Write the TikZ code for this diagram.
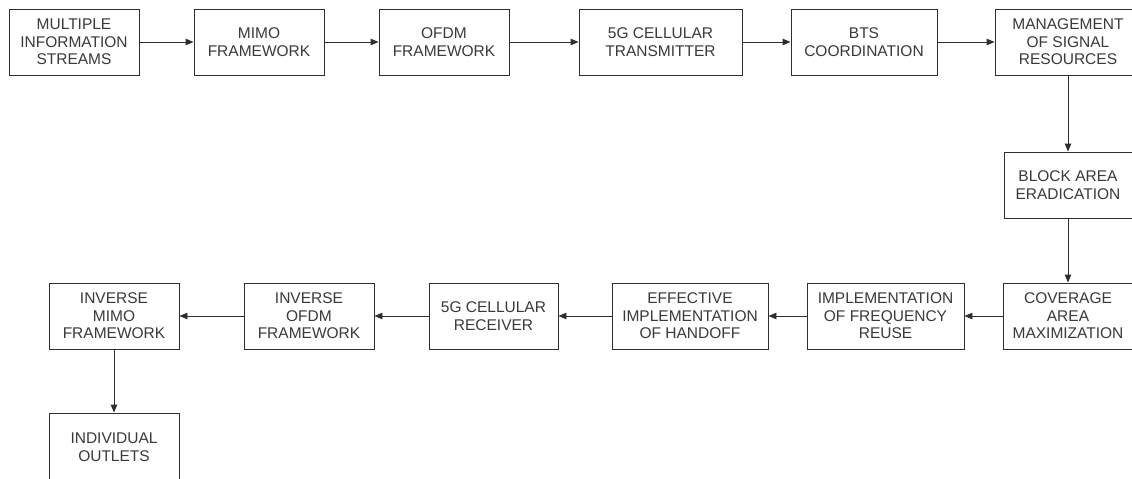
\documentclass[tikz,border=0pt]{standalone}
\usepackage{fontspec}
\setmainfont{Liberation Sans}
\usetikzlibrary{arrows.meta}
\definecolor{ink}{HTML}{2E2E2E}
\definecolor{txt}{HTML}{3A3A3A}
\tikzset{
  box/.style={draw=ink, line width=0.95pt, inner sep=0pt, align=center,
    text=txt, font=\fontsize{15.5}{17.6}\selectfont},
  flow/.style={draw=ink, line width=0.95pt, -{Triangle[length=8pt,width=6.5pt]}}
}
\begin{document}
\begin{tikzpicture}[x=1pt,y=-1pt]
\useasboundingbox (0,0) rectangle (1132,479);
\clip (0,0) rectangle (1132,479);
\fill[white] (0,0) rectangle (1132,479);
% row 1
\node[box, minimum width=130pt, minimum height=66pt] (a1) at (74,42) {MULTIPLE\\INFORMATION\\STREAMS};
\node[box, minimum width=130pt, minimum height=66pt] (a2) at (259,42) {MIMO\\FRAMEWORK};
\node[box, minimum width=130pt, minimum height=66pt] (a3) at (444,42) {OFDM\\FRAMEWORK};
\node[box, minimum width=163pt, minimum height=66pt] (a4) at (660.5,42) {5G CELLULAR\\TRANSMITTER};
\node[box, minimum width=146pt, minimum height=66pt] (a5) at (864,42) {BTS\\COORDINATION};
\node[box, minimum width=146pt, minimum height=66pt] (a6) at (1068,42) {MANAGEMENT\\OF SIGNAL\\RESOURCES};
% right column
\node[box, minimum width=128pt, minimum height=66pt] (b1) at (1068,185) {BLOCK AREA\\ERADICATION};
% row 3
\node[box, minimum width=130pt, minimum height=66pt] (c1) at (1068,316) {COVERAGE\\AREA\\MAXIMIZATION};
\node[box, minimum width=157pt, minimum height=66pt] (c2) at (885.5,316) {IMPLEMENTATION\\OF FREQUENCY\\REUSE};
\node[box, minimum width=156pt, minimum height=66pt] (c3) at (690,316) {EFFECTIVE\\IMPLEMENTATION\\OF HANDOFF};
\node[box, minimum width=129pt, minimum height=66pt] (c4) at (493.5,316) {5G CELLULAR\\RECEIVER};
\node[box, minimum width=130pt, minimum height=66pt] (c5) at (309,316) {INVERSE\\OFDM\\FRAMEWORK};
\node[box, minimum width=130pt, minimum height=66pt] (c6) at (114,316) {INVERSE\\MIMO\\FRAMEWORK};
% bottom
\node[box, minimum width=130pt, minimum height=68pt] (d1) at (114,447) {INDIVIDUAL\\OUTLETS};
% connectors
\draw[flow] (a1) -- (a2);
\draw[flow] (a2) -- (a3);
\draw[flow] (a3) -- (a4);
\draw[flow] (a4) -- (a5);
\draw[flow] (a5) -- (a6);
\draw[flow] (a6) -- (b1);
\draw[flow] (b1) -- (c1);
\draw[flow] (c1) -- (c2);
\draw[flow] (c2) -- (c3);
\draw[flow] (c3) -- (c4);
\draw[flow] (c4) -- (c5);
\draw[flow] (c5) -- (c6);
\draw[flow] (c6) -- (d1);
\end{tikzpicture}
\end{document}
